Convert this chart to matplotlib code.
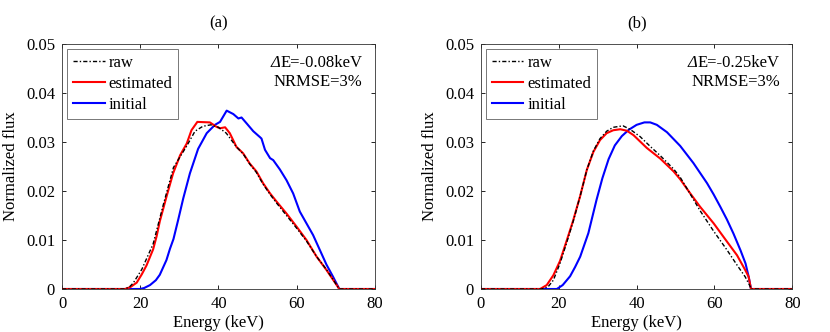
import matplotlib
matplotlib.use("Agg")
import matplotlib.pyplot as plt

plt.rcParams["font.family"] = ["Liberation Serif", "DejaVu Serif"]

# ---- data (energy in keV, normalized flux) ----
a_raw_e = [0, 16.0, 17.2, 18.2, 20.4, 23.3, 25.9, 28.5, 31.9, 34.0, 36.0, 38.0, 40.0, 42.0,
           44.6, 46.3, 48.0, 49.7, 51.4, 53.2, 54.9, 57.4, 60.0, 62.5, 65.1, 67.6, 70.9, 80]
a_raw_f = [0, 0, 0.0004, 0.0012, 0.0040, 0.0092, 0.0172, 0.0248, 0.0292, 0.0322, 0.0332, 0.0335,
           0.0330, 0.0318, 0.0290, 0.0276, 0.0255, 0.0238, 0.0214, 0.0193, 0.0175, 0.0150,
           0.0124, 0.0098, 0.0066, 0.0040, 0, 0]

a_est_e = [0, 16.1, 17.5, 19.1, 20.4, 21.6, 23.3, 24.2, 25.0, 26.7, 28.4, 30.2, 31.9, 33.1,
           34.6, 37.8, 39.5, 40.4, 41.7, 42.9, 44.6, 46.3, 48.0, 49.7, 51.4, 53.2, 54.9, 57.4,
           60.0, 62.5, 65.1, 67.6, 70.9, 80]
a_est_f = [0, 0, 0.0004, 0.0013, 0.0030, 0.0048, 0.0081, 0.0108, 0.0138, 0.0188, 0.0236,
           0.0273, 0.0297, 0.0324, 0.0341, 0.0340, 0.0331, 0.0328, 0.0330, 0.0318, 0.0290,
           0.0277, 0.0256, 0.0240, 0.0216, 0.0195, 0.0178, 0.0154, 0.0127, 0.0100, 0.0066,
           0.0039, 0, 0]

a_ini_e = [0, 19.9, 21.0, 22.5, 24.0, 25.0, 26.7, 27.6, 28.5, 29.7, 31.0, 32.7, 34.8, 37.0,
           39.1, 40.4, 42.1, 43.8, 45.1, 45.9, 47.2, 48.9, 50.6, 51.0, 51.9, 53.2, 54.0, 55.7,
           57.4, 59.1, 60.8, 62.5, 64.2, 65.9, 67.6, 69.3, 70.9, 80]
a_ini_f = [0, 0, 0.0002, 0.0008, 0.0018, 0.0029, 0.0059, 0.0082, 0.0102, 0.0141, 0.0185,
           0.0236, 0.0286, 0.0318, 0.0335, 0.0341, 0.0364, 0.0357, 0.0348, 0.0350, 0.0338,
           0.0322, 0.0310, 0.0307, 0.0284, 0.0267, 0.0263, 0.0244, 0.0222, 0.0195, 0.0158,
           0.0134, 0.0110, 0.0080, 0.0050, 0.0025, 0, 0]

b_raw_e = [0, 15.5, 17.2, 18.6, 20.3, 22.0, 23.7, 25.5, 27.2, 28.9, 30.6, 32.3, 34.0, 36.5,
           38.3, 40.9, 43.5, 46.1, 49.5, 51.2, 53.7, 56.3, 59.8, 63.2, 65.8, 67.9, 69.2, 69.4, 80]
b_raw_f = [0, 0, 0.0004, 0.0018, 0.0052, 0.0094, 0.0138, 0.0190, 0.0243, 0.0282, 0.0307,
           0.0322, 0.0330, 0.0333, 0.0326, 0.0311, 0.0291, 0.0272, 0.0245, 0.0228, 0.0195,
           0.0160, 0.0118, 0.0080, 0.0049, 0.0025, 0.0005, 0, 0]

b_est_e = [0, 15.2, 16.9, 18.6, 20.3, 22.0, 23.7, 25.5, 27.2, 28.9, 30.6, 32.3, 34.0, 35.8,
           37.5, 39.2, 42.6, 46.1, 49.5, 51.2, 53.7, 56.3, 59.8, 63.2, 65.8, 67.9, 68.8, 69.4, 80]
b_est_f = [0, 0, 0.0008, 0.0028, 0.0057, 0.0098, 0.0140, 0.0190, 0.0243, 0.0280, 0.0304,
           0.0318, 0.0324, 0.0326, 0.0323, 0.0314, 0.0288, 0.0266, 0.0240, 0.0224, 0.0196,
           0.0168, 0.0134, 0.0097, 0.0069, 0.0039, 0.0025, 0, 0]

b_ini_e = [0, 19.5, 21.0, 22.9, 24.2, 25.5, 27.6, 29.7, 31.2, 32.8, 34.4, 36.2, 38.0, 40.0,
           42.0, 43.5, 45.2, 47.8, 51.2, 54.6, 58.1, 59.8, 61.5, 63.2, 64.9, 66.7, 68.0, 68.8,
           69.4, 80]
b_ini_f = [0, 0, 0.0008, 0.0026, 0.0045, 0.0066, 0.0114, 0.0182, 0.0226, 0.0265, 0.0293,
           0.0312, 0.0325, 0.0335, 0.0340, 0.0340, 0.0335, 0.0320, 0.0292, 0.0257, 0.0216,
           0.0193, 0.0168, 0.0142, 0.0113, 0.0079, 0.0052, 0.0025, 0, 0]

x_ticks = [0, 20, 40, 60, 80]
y_ticks = [0, 0.01, 0.02, 0.03, 0.04, 0.05]
y_tick_labels = ["0", "0.01", "0.02", "0.03", "0.04", "0.05"]

panels = [
    ("(a)", a_raw_e, a_raw_f, a_est_e, a_est_f, a_ini_e, a_ini_f, "-0.08"),
    ("(b)", b_raw_e, b_raw_f, b_est_e, b_est_f, b_ini_e, b_ini_f, "-0.25"),
]

fig = plt.figure(figsize=(8.3, 3.32), dpi=100)
rects = [[0.0747, 0.1295, 0.377, 0.738], [0.5795, 0.1295, 0.375, 0.738]]
FS = 12

for rect, (title, re, rf, ee, ef, ie, i_f, de) in zip(rects, panels):
    ax = fig.add_axes(rect)
    ax.plot(re, rf, color="black", lw=1.0, ls=(0, (3, 1.5, 1, 1.5)), label="raw", zorder=4)
    ax.plot(ee, ef, color="#ff0000", lw=1.5, label="estimated", zorder=3)
    ax.plot(ie, i_f, color="#0000ff", lw=1.5, label="initial", zorder=2)
    ax.set_xlim(0, 80)
    ax.set_ylim(0, 0.05)
    ax.set_xticks(x_ticks)
    ax.set_yticks(y_ticks)
    ax.set_yticklabels(y_tick_labels)
    ax.tick_params(direction="in", top=True, right=True, length=3, width=0.6,
                   labelsize=FS, pad=5)
    for s in ax.spines.values():
        s.set_linewidth(0.6)
        s.set_color("#333333")
    ax.set_title(title, fontsize=FS, pad=12)
    ax.set_xlabel("Energy (keV)", fontsize=FS, labelpad=2)
    ax.set_ylabel("Normalized flux", fontsize=FS, labelpad=5)
    leg = ax.legend(loc="upper left", bbox_to_anchor=(0.016, 0.98), borderaxespad=0,
                    fontsize=FS, fancybox=False, framealpha=1, edgecolor="#777777",
                    handlelength=1.9, handletextpad=0.25, labelspacing=0.3,
                    borderpad=0.35)
    leg.get_frame().set_linewidth(0.7)
    t1 = ax.text(0.96, 0.924, "E=" + de + "keV", transform=ax.transAxes,
                 ha="right", va="center", fontsize=FS)
    ax.annotate("Δ", xy=(0, 0.5), xycoords=t1, ha="right", va="center",
                fontsize=FS, style="italic")
    ax.text(0.96, 0.846, "NRMSE=3%", transform=ax.transAxes,
            ha="right", va="center", fontsize=FS)

fig.savefig("out.png", dpi=100)
